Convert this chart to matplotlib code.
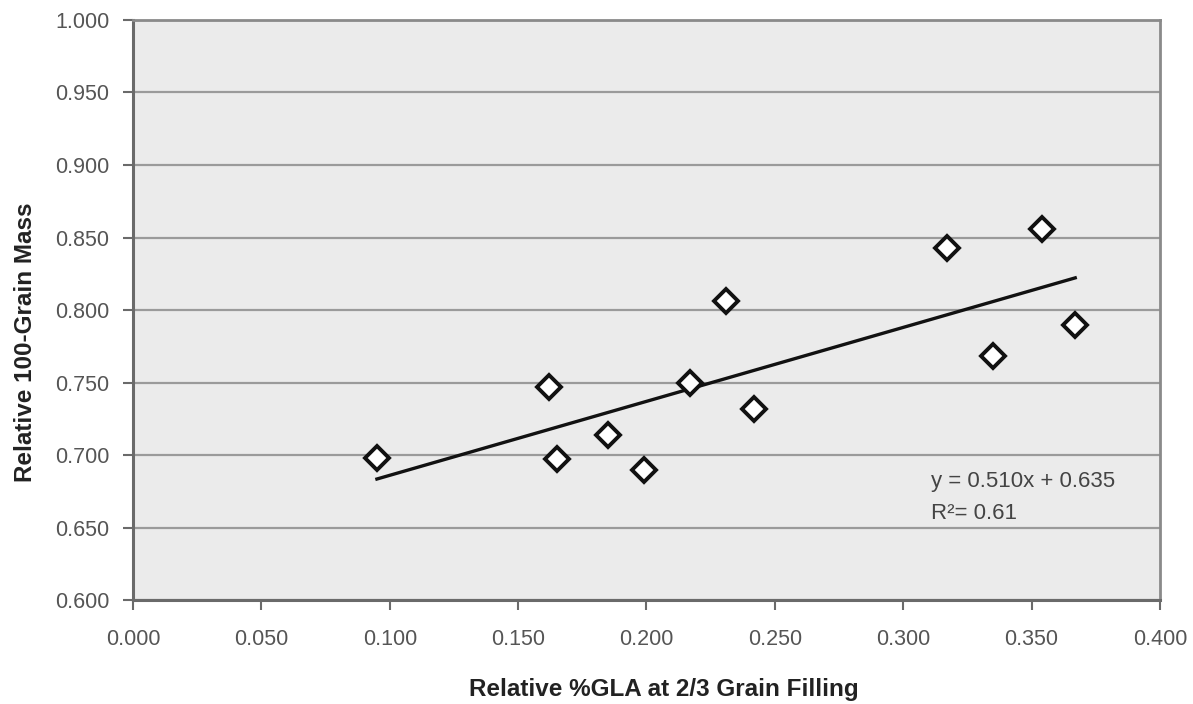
import matplotlib.pyplot as plt
import numpy as np

plt.rcParams['font.family'] = ['Liberation Sans', 'DejaVu Sans']

# relative %GLA at 2/3 grain filling vs relative 100-grain mass
gla = [0.095, 0.162, 0.165, 0.185, 0.199, 0.217, 0.231, 0.242, 0.317, 0.335, 0.354, 0.367]
mass = [0.698, 0.747, 0.697, 0.714, 0.690, 0.750, 0.806, 0.732, 0.843, 0.768, 0.856, 0.790]

# fitted trend line, as printed on the chart
slope = 0.510
intercept = 0.635
r2 = 0.61

xticks = np.arange(0.0, 0.401, 0.05)
yticks = np.arange(0.6, 1.001, 0.05)

fig = plt.figure(figsize=(11.93, 7.04), dpi=100)
ax = fig.add_axes([0.1115, 0.1477, 0.8608, 0.8239])
ax.set_facecolor('#ebebeb')

ax.set_xlim(0, 0.4)
ax.set_ylim(0.6, 1.0)
ax.set_xticks(xticks)
ax.set_yticks(yticks)
ax.set_xticklabels(['%.3f' % v for v in xticks])
ax.set_yticklabels(['%.3f' % v for v in yticks])
ax.yaxis.grid(True, color='#9a9a9a', lw=1.6)
ax.set_axisbelow(True)

for side in ['left', 'bottom']:
    ax.spines[side].set_color('#6a6a6a')
    ax.spines[side].set_linewidth(2.2)
for side in ['top', 'right']:
    ax.spines[side].set_color('#8a8a8a')
    ax.spines[side].set_linewidth(2.0)

ax.tick_params(axis='both', direction='out', length=7, width=1.5, color='#6a6a6a',
               labelsize=15.5, labelcolor='#555555')
ax.tick_params(axis='x', pad=14)
ax.tick_params(axis='y', pad=10)

xs = np.array([min(gla), max(gla)])
ax.plot(xs, slope * xs + intercept, color='#111111', lw=2.4, zorder=2)
ax.plot(gla, mass, linestyle='none', marker='D', ms=12, mfc='white',
        mec='#111111', mew=2.8, zorder=3)

ax.text(0.311, 0.6814, 'y = %.3fx + %.3f' % (slope, intercept), fontsize=16,
        color='#444444', va='center')
ax.text(0.311, 0.660, 'R\u00b2= %.2f' % r2, fontsize=16, color='#444444', va='center')

ax.set_xlabel('Relative %GLA at 2/3 Grain Filling', fontsize=17.5, fontweight='bold',
              color='#222222', va='center', ha='center')
ax.xaxis.set_label_coords(0.517, -0.155)
ax.set_ylabel('Relative 100-Grain Mass', fontsize=17.5, fontweight='bold',
              color='#222222', va='center', ha='center')
ax.yaxis.set_label_coords(-0.105, 0.445)

fig.savefig('out.png', dpi=100)
